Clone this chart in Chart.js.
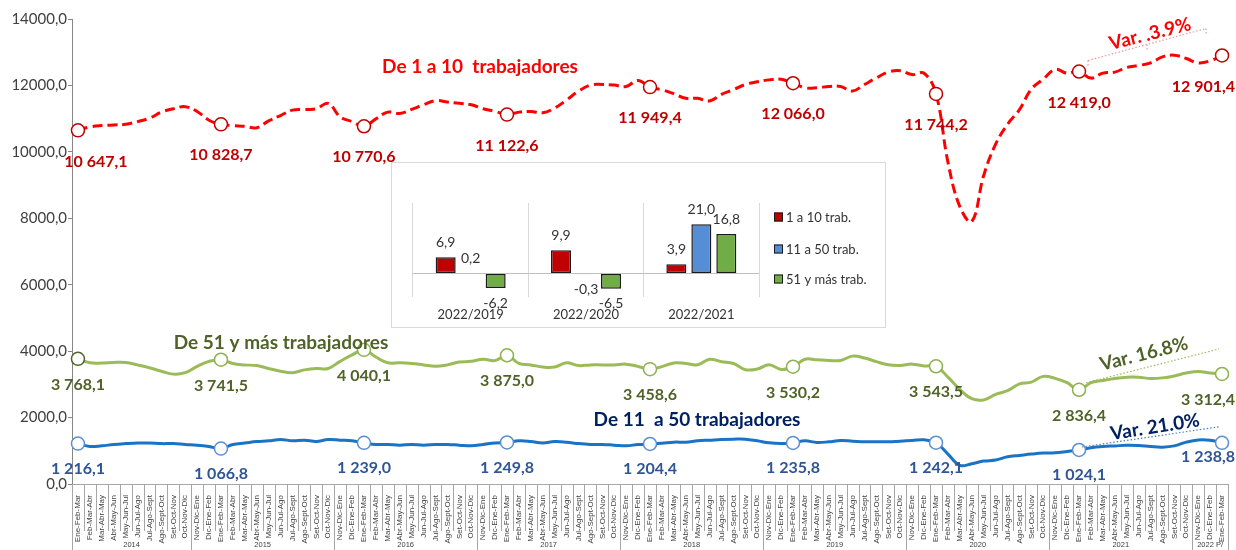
<!DOCTYPE html>
<html>
<head>
<meta charset="utf-8">
<script src="https://cdn.jsdelivr.net/npm/chart.js@4.4.0/dist/chart.umd.min.js"></script>
<style>
body { margin: 0; background: #fff; }
#wrap { position: relative; width: 1236px; height: 550px; }
#inset { position: absolute; left: 391px; top: 162px; width: 495px; height: 166px; border: 1px solid #d9d9d9; background: #fff; box-sizing: border-box; }
#inset canvas { display: block; }
</style>
</head>
<body>
<div id="wrap">
  <canvas id="main" width="1236" height="550"></canvas>
  <div id="inset"><canvas id="bars" width="493" height="164"></canvas></div>
</div>
<script>
// trimestres moviles, 2014 Ene-Feb-Mar .. 2022 Ene-Feb-Mar
var trimestres = ['Ene-Feb-Mar','Feb-Mar-Abr','Mar-Abr-May','Abr-May-Jun','May-Jun-Jul','Jun-Jul-Ago',
                  'Jul-Ago-Sept','Ago-Sept-Oct','Set-Oct-Nov','Oct-Nov-Dic','Nov-Dic-Ene','Dic-Ene-Feb'];
var anios = ['2014','2015','2016','2017','2018','2019','2020','2021','2022 P/'];

// De 1 a 10 trabajadores
var micro = [10647.1,10749,10790,10810,10830,10911,11013,11196,11298,11359,11217,10952,
             10828.7,10790,10769,10728,10932,11094,11257,11277,11298,11461,11054,10911,
             10770.6,10993,11196,11156,11277,11420,11542,11501,11461,11420,11298,11217,
             11122.6,11196,11217,11176,11318,11562,11827,12010,12030,12010,11969,12152,
             11949.4,11870,11751,11612,11612,11532,11731,11870,12028,12108,12167,12187,
             12066.0,11929,11929,11969,11969,11830,12028,12227,12405,12445,12326,12366,
             11744.2,9690,8350,7900,9290,10230,10830,11270,11890,12190,12480,12370,
             12419.0,12220,12370,12400,12540,12600,12680,12860,12910,12810,12680,12740,
             12901.4];
// De 11 a 50 trabajadores
var pequena = [1216.1,1130,1150,1190,1216,1235,1235,1216,1216,1190,1170,1130,
               1066.8,1190,1235,1280,1300,1340,1300,1320,1280,1340,1320,1300,
               1239.0,1190,1190,1170,1190,1170,1190,1190,1170,1150,1190,1235,
               1249.8,1300,1280,1235,1280,1260,1216,1190,1190,1170,1150,1190,
               1204.4,1225,1260,1260,1300,1320,1340,1350,1350,1300,1240,1220,
               1235.8,1300,1250,1270,1310,1290,1270,1270,1270,1290,1310,1330,
               1242.1,900,560,610,690,720,820,860,900,930,940,980,
               1024.1,1090,1128,1147,1166,1157,1128,1110,1147,1261,1328,1318,
               1238.8];
// De 51 y mas trabajadores
var grande = [3768.1,3650,3640,3661,3661,3586,3500,3394,3308,3351,3543,3693,
              3741.5,3629,3586,3565,3479,3394,3351,3436,3479,3479,3693,3886,
              4040.1,3822,3650,3650,3629,3586,3543,3586,3672,3693,3758,3715,
              3875.0,3629,3586,3522,3522,3650,3565,3586,3586,3586,3608,3540,
              3458.6,3534,3646,3627,3590,3757,3683,3627,3441,3460,3590,3450,
              3530.2,3757,3739,3720,3720,3850,3794,3683,3590,3571,3609,3553,
              3543.5,3218,2846,2567,2530,2697,2809,3013,3069,3240,3180,3050,
              2836.4,3050,3117,3176,3214,3214,3176,3195,3253,3340,3389,3340,
              3312.4];

// recuadro: variacion %
var comparaciones = ['2022/2019','2022/2020','2022/2021'];
var varMicro = [6.9, 9.9, 3.9];
var varPequena = [0.2, -0.3, 21.0];
var varGrande = [-6.2, -6.5, 16.8];

var etiquetas = [];
for (i = 0; i < micro.length; i++) {
    etiquetas.push(trimestres[i % 12]);
}

function coma(v) {
    var s = v.toFixed(1).split('.');
    return s[0].replace(/\B(?=(\d{3})+(?!\d))/g, ' ') + ',' + s[1];
}
function esAncla(ctx) { return ctx.dataIndex % 12 === 0; }
function inicioAnio(i) { return i === 0 || i === etiquetas.length || (i >= 10 && (i - 10) % 12 === 0); }

var decor = {
    id: 'decor',
    afterDraw: function(chart) {
        var ctx = chart.ctx, a = chart.chartArea, x = chart.scales.x;
        var w = x.getPixelForValue(1) - x.getPixelForValue(0);
        var n = etiquetas.length;
        ctx.save();

        // eje x y separadores
        ctx.strokeStyle = '#a6a6a6';
        ctx.lineWidth = 1;
        ctx.beginPath();
        ctx.moveTo(a.left, a.bottom + 0.5);
        ctx.lineTo(a.right, a.bottom + 0.5);
        for (var i = 0; i <= n; i++) {
            var px = Math.round(x.getPixelForValue(i) - w / 2) + 0.5;
            ctx.moveTo(px, a.bottom);
            ctx.lineTo(px, inicioAnio(i) ? 550 : a.bottom + 47);
        }
        ctx.stroke();

        // anios
        ctx.fillStyle = '#404040';
        ctx.font = '7.5px "Liberation Sans"';
        ctx.textAlign = 'center';
        ctx.textBaseline = 'middle';
        var bordes = [];
        for (i = 0; i <= n; i++) if (inicioAnio(i)) bordes.push(i);
        for (var k = 0; k < anios.length; k++) {
            var cx = x.getPixelForValue((bordes[k] + bordes[k + 1] - 1) / 2);
            ctx.fillText(anios[k], cx, 545);
        }

        // etiquetas de datos
        var series = [
            { d: 0, color: '#c00000', dy: 31, dx0: 18 },
            { d: 1, color: '#4f6228', dy: 26, dx0: 0 },
            { d: 2, color: '#2f5597', dy: 25, dx0: 0 }
        ];
        ctx.font = 'bold 16px Lato';
        series.forEach(function(s) {
            var meta = chart.getDatasetMeta(s.d);
            var vals = chart.data.datasets[s.d].data;
            ctx.fillStyle = s.color;
            meta.data.forEach(function(pt, i) {
                if (i % 12) return;
                var txt = coma(vals[i]);
                var tw = ctx.measureText(txt).width;
                var tx = Math.min(pt.x + (i === 0 ? s.dx0 : 0), 1235 - tw / 2);
                var ty = pt.y + s.dy;
                if (i === n - 1 && s.d === 2) ty = pt.y + 14;
                ctx.fillText(txt, tx, ty);
            });
        });

        // nombres de las series
        ctx.font = 'bold 19px Lato';
        ctx.fillStyle = '#ff0000';
        ctx.fillText('De 1 a 10  trabajadores', 480, 67);
        ctx.fillStyle = '#4f6228';
        ctx.fillText('De 51 y más trabajadores', 281, 343);
        ctx.fillStyle = '#002060';
        ctx.fillText('De 11  a 50 trabajadores', 697, 420);

        // variaciones
        var p = function(d, i) { return chart.getDatasetMeta(d).data[i]; };
        function punteada(x1, y1, x2, y2, color, marcas) {
            ctx.save();
            ctx.strokeStyle = color;
            ctx.lineWidth = 1.2;
            ctx.setLineDash([1.5, 2]);
            ctx.beginPath();
            ctx.moveTo(x1, y1); ctx.lineTo(x2, y2);
            if (marcas) {
                ctx.moveTo(x1, y1); ctx.lineTo(x1, y1 + 7);
                ctx.moveTo(x2, y2); ctx.lineTo(x2, y2 + 7);
                var mx = (x1 + x2) / 2, my = (y1 + y2) / 2;
                ctx.moveTo(mx, my); ctx.lineTo(mx, my + 6);
            }
            ctx.stroke();
            ctx.restore();
        }
        function girado(txt, cx, cy, ang, color) {
            ctx.save();
            ctx.translate(cx, cy);
            ctx.rotate(ang * Math.PI / 180);
            ctx.fillStyle = color;
            ctx.font = 'bold 19px Lato';
            ctx.fillText(txt, 0, 0);
            ctx.restore();
        }
        var r0 = p(0, 84), r1 = p(0, 96);
        punteada(r0.x + 9, r0.y - 11, r1.x - 16, r1.y - 27, '#e59a9a', true);
        girado('Var. .3.9%', 1150, 34, -14, '#ff0000');
        var g0 = p(1, 84), g1 = p(1, 96);
        punteada(g0.x + 7, g0.y - 7, g1.x - 3, g1.y - 25, '#9bbb59', false);
        girado('Var. 16.8%', 1144, 354, -14, '#4f6228');
        var b0 = p(2, 84), b1 = p(2, 96);
        punteada(b0.x + 3, b0.y - 3, b1.x - 3, b1.y - 16, '#4a7ebb', false);
        girado('Var. 21.0%', 1155, 427, -9, '#002060');

        ctx.restore();
    }
};

new Chart(document.getElementById('main'), {
    type: 'line',
    data: {
        labels: etiquetas,
        datasets: [
            {
                label: 'De 1 a 10 trabajadores',
                data: micro,
                borderColor: '#ff0000',
                borderWidth: 3,
                borderDash: [10, 5],
                tension: 0.4,
                pointRadius: function(ctx) { return esAncla(ctx) ? 6.5 : 0; },
                pointBackgroundColor: '#fff',
                pointBorderColor: '#c00000',
                pointBorderWidth: 1.5
            },
            {
                label: 'De 51 y más trabajadores',
                data: grande,
                borderColor: '#9bbb59',
                borderWidth: 3,
                tension: 0.4,
                pointRadius: function(ctx) { return esAncla(ctx) ? 6.5 : 0; },
                pointBackgroundColor: '#fff',
                pointBorderColor: function(ctx) { return ctx.dataIndex === 0 ? '#4f6228' : '#8db24e'; },
                pointBorderWidth: 1.5
            },
            {
                label: 'De 11 a 50 trabajadores',
                data: pequena,
                borderColor: '#1a73c4',
                borderWidth: 3,
                tension: 0.4,
                pointRadius: function(ctx) { return esAncla(ctx) ? 6.5 : 0; },
                pointBackgroundColor: '#fff',
                pointBorderColor: '#5b8fd0',
                pointBorderWidth: 1.5
            }
        ]
    },
    options: {
        responsive: false,
        animation: false,
        devicePixelRatio: 1,
        layout: { padding: { top: 19, right: 4, left: 0, bottom: 0 } },
        plugins: { legend: { display: false }, tooltip: { enabled: false } },
        scales: {
            x: {
                offset: true,
                grid: { display: false },
                border: { display: false },
                ticks: {
                    autoSkip: false, minRotation: 90, maxRotation: 90, padding: 3,
                    color: '#404040', font: { family: 'Liberation Sans', size: 8 }
                },
                afterFit: function(s) { s.height = 66; }
            },
            y: {
                min: 0, max: 14000,
                ticks: {
                    stepSize: 2000, padding: 1, color: '#404040',
                    font: { family: 'Lato', size: 15 },
                    callback: function(v) { return v.toFixed(1).replace('.', ','); }
                },
                grid: { drawOnChartArea: false, tickLength: 4, color: '#868686' },
                border: { color: '#868686' },
                afterFit: function(s) { s.width = 72; }
            }
        }
    },
    plugins: [decor]
});

var barLabels = {
    id: 'barLabels',
    afterDatasetsDraw: function(chart) {
        var ctx = chart.ctx;
        ctx.save();
        ctx.textAlign = 'center';
        ctx.textBaseline = 'middle';
        ctx.font = '14px Lato';
        ctx.fillStyle = '#333';
        chart.data.datasets.forEach(function(ds, d) {
            chart.getDatasetMeta(d).data.forEach(function(bar, i) {
                var v = ds.data[i];
                ctx.fillText(v.toFixed(1).replace('.', ','), bar.x, v >= 0 ? bar.y - 15 : bar.y + 15);
            });
        });
        // leyenda
        var ys = [54, 86, 116];
        ctx.textAlign = 'left';
        ctx.font = '13px Lato';
        chart.data.datasets.forEach(function(ds, d) {
            ctx.fillStyle = ds.backgroundColor;
            ctx.fillRect(382, ys[d] - 4.5, 9, 9);
            ctx.strokeStyle = '#1a1a1a';
            ctx.lineWidth = 1;
            ctx.strokeRect(382.5, ys[d] - 4, 8, 8);
            ctx.fillStyle = '#333';
            ctx.fillText(ds.label, 394, ys[d] + 1);
        });
        ctx.restore();
    }
};

new Chart(document.getElementById('bars'), {
    type: 'bar',
    data: {
        labels: comparaciones,
        datasets: [
            { label: '1 a 10 trab.', data: varMicro, backgroundColor: '#c00000' },
            { label: '11 a 50 trab.', data: varPequena, backgroundColor: '#558ed5' },
            { label: '51 y más trab.', data: varGrande, backgroundColor: '#70ad47' }
        ]
    },
    options: {
        responsive: false,
        animation: false,
        devicePixelRatio: 1,
        datasets: {
            bar: {
                categoryPercentage: 0.65,
                barPercentage: 0.8,
                borderSkipped: false,
                borderWidth: function(ctx) { return Math.abs(ctx.raw) < 1 ? 1 : 1.5; },
                borderColor: function(ctx) { return Math.abs(ctx.raw) < 1 ? '#a6a6a6' : '#1a1a1a'; }
            }
        },
        layout: { padding: { left: 21, right: 126, top: 40, bottom: 0 } },
        plugins: { legend: { display: false }, tooltip: { enabled: false } },
        scales: {
            x: {
                grid: { offset: true, color: '#d9d9d9', drawTicks: false },
                border: { display: false },
                ticks: { padding: 10, color: '#333', font: { family: 'Lato', size: 13 } },
                afterFit: function(s) { s.height = 30; }
            },
            y: {
                min: -10, max: 30,
                ticks: { display: false, stepSize: 10 },
                grid: { drawTicks: false, color: function(c) { return c.tick.value === 0 ? '#bfbfbf' : 'rgba(0,0,0,0)'; } },
                border: { display: false },
                afterFit: function(s) { s.width = 0; }
            }
        }
    },
    plugins: [barLabels]
});
</script>
</body>
</html>
